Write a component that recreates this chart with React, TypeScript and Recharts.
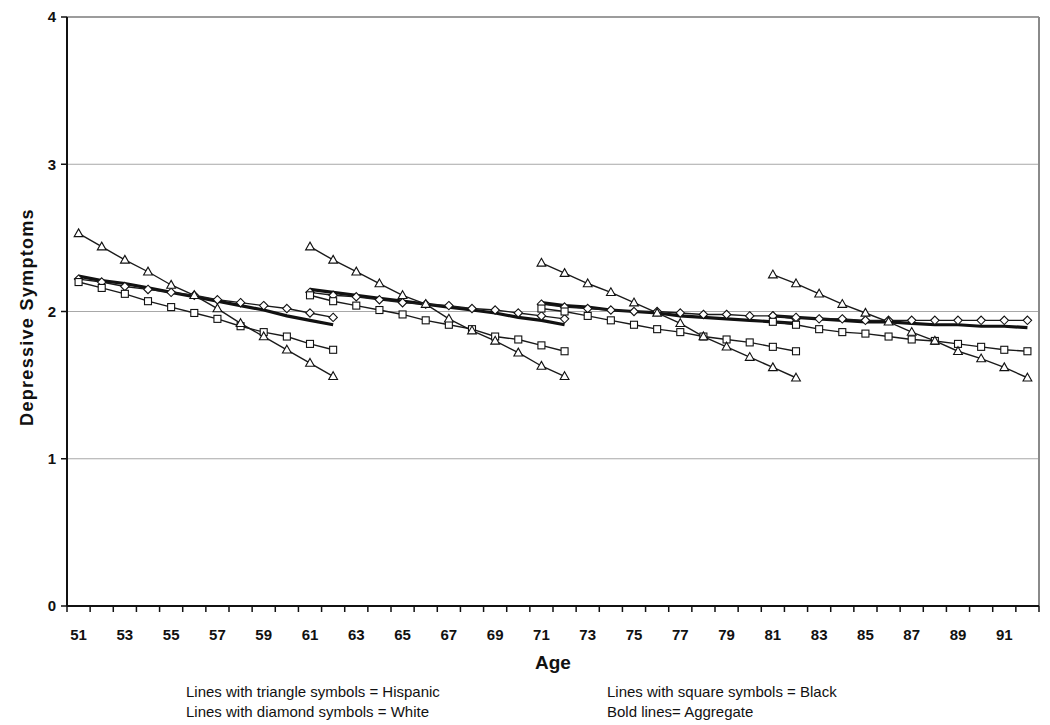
import React from 'react';
import { LineChart, Line, XAxis, YAxis, CartesianGrid, ReferenceLine } from 'recharts';

// Categories (age)
const ages = [51, 52, 53, 54, 55, 56, 57, 58, 59, 60, 61, 62, 63, 64, 65, 66, 67, 68, 69, 70, 71, 72,
  73, 74, 75, 76, 77, 78, 79, 80, 81, 82, 83, 84, 85, 86, 87, 88, 89, 90, 91, 92];
const cohortStarts = [51, 61, 71, 81];
const yTicks = [0, 1, 2, 3, 4];

// Hispanic (triangle symbols), one array per cohort
const hispanic51 = [2.53, 2.44, 2.35, 2.27, 2.18, 2.11, 2.02, 1.92, 1.83, 1.74, 1.65, 1.56];
const hispanic61 = [2.44, 2.35, 2.27, 2.19, 2.11, 2.05, 1.95, 1.87, 1.80, 1.72, 1.63, 1.56];
const hispanic71 = [2.33, 2.26, 2.19, 2.13, 2.06, 1.99, 1.92, 1.83, 1.76, 1.69, 1.62, 1.55];
const hispanic81 = [2.25, 2.19, 2.12, 2.05, 1.99, 1.93, 1.86, 1.80, 1.73, 1.68, 1.62, 1.55];

// Black (square symbols)
const black51 = [2.20, 2.16, 2.12, 2.07, 2.03, 1.99, 1.95, 1.90, 1.86, 1.83, 1.78, 1.74];
const black61 = [2.11, 2.07, 2.04, 2.01, 1.98, 1.94, 1.91, 1.88, 1.83, 1.81, 1.77, 1.73];
const black71 = [2.02, 2.00, 1.97, 1.94, 1.91, 1.88, 1.86, 1.83, 1.81, 1.79, 1.76, 1.73];
const black81 = [1.93, 1.91, 1.88, 1.86, 1.85, 1.83, 1.81, 1.80, 1.78, 1.76, 1.74, 1.73];

// White (diamond symbols)
const white51 = [2.22, 2.20, 2.17, 2.15, 2.13, 2.11, 2.08, 2.06, 2.04, 2.02, 1.99, 1.96];
const white61 = [2.13, 2.11, 2.10, 2.08, 2.06, 2.05, 2.04, 2.02, 2.01, 1.99, 1.97, 1.95];
const white71 = [2.05, 2.03, 2.02, 2.01, 2.00, 2.00, 1.99, 1.98, 1.98, 1.97, 1.97, 1.95];
const white81 = [1.97, 1.96, 1.95, 1.95, 1.94, 1.94, 1.94, 1.94, 1.94, 1.94, 1.94, 1.94];

// Aggregate (bold lines)
const aggregate51 = [2.24, 2.21, 2.19, 2.16, 2.13, 2.10, 2.07, 2.04, 2.01, 1.97, 1.94, 1.91];
const aggregate61 = [2.15, 2.13, 2.11, 2.09, 2.07, 2.05, 2.03, 2.01, 1.99, 1.96, 1.94, 1.91];
const aggregate71 = [2.06, 2.04, 2.03, 2.01, 2.00, 1.99, 1.97, 1.96, 1.95, 1.94, 1.93, 1.92];
const aggregate81 = [1.97, 1.96, 1.95, 1.94, 1.93, 1.93, 1.92, 1.91, 1.91, 1.90, 1.90, 1.89];

const groups: Record<string, number[][]> = {
  a: [aggregate51, aggregate61, aggregate71, aggregate81],
  w: [white51, white61, white71, white81],
  b: [black51, black61, black71, black81],
  h: [hispanic51, hispanic61, hispanic71, hispanic81],
};

const data = ages.map((age) => {
  const row: Record<string, number | null> = { age };
  Object.keys(groups).forEach((g) => {
    groups[g].forEach((arr, ci) => {
      const idx = age - cohortStarts[ci];
      row[`${g}${ci}`] = idx >= 0 && idx < arr.length ? arr[idx] : null;
    });
  });
  return row;
});

const boundaries = [...ages.map((a) => a - 0.5), ages[ages.length - 1] + 0.5];

const CHART_W = 1034;
const CHART_H = 715;
const MARGIN = { top: 9, right: 3, left: 0, bottom: 0 };
const YAXIS_W = 59;
const PLOT_W = CHART_W - MARGIN.left - MARGIN.right - YAXIS_W;
const HALF_CAT = PLOT_W / ages.length / 2;
const FONT = '"Liberation Sans", Arial, sans-serif';

const makeDot = (shape: 'tri' | 'sq' | 'dia') => (props: any) => {
  const { cx, cy, value, index } = props;
  const k = `${shape}-${index}-${cx}`;
  if (cx == null || cy == null || value == null || Number.isNaN(cy)) return <g key={k} />;
  const st = { fill: '#fff', stroke: '#111', strokeWidth: 1.1 };
  if (shape === 'tri') {
    return <polygon key={k} points={`${cx},${cy - 4.6} ${cx + 4.4},${cy + 3.2} ${cx - 4.4},${cy + 3.2}`} {...st} />;
  }
  if (shape === 'sq') {
    return <rect key={k} x={cx - 3.5} y={cy - 3.5} width={7} height={7} {...st} />;
  }
  return <polygon key={k} points={`${cx},${cy - 4.2} ${cx + 4.2},${cy} ${cx},${cy + 4.2} ${cx - 4.2},${cy}`} {...st} />;
};

const XTick = (props: any) => {
  const { x, y, payload } = props;
  const age = payload.value + 0.5;
  if (age > 91 || (age - 51) % 2 !== 0) return <g />;
  return (
    <text x={x + HALF_CAT} y={y} dy="0.71em" textAnchor="middle" fontFamily={FONT}
      fontSize={15} fontWeight="bold" fill="#111">
      {age}
    </text>
  );
};

const YTick = (props: any) => {
  const { x, y, payload } = props;
  return (
    <text x={x} y={y} dy="0.36em" textAnchor="end" fontFamily={FONT}
      fontSize={15} fontWeight="bold" fill="#111">
      {payload.value}
    </text>
  );
};

const lineKeys = [0, 1, 2, 3];

export default function App() {
  return (
    <div style={{ position: 'relative', width: CHART_W, height: CHART_H }}>
      <LineChart width={CHART_W} height={CHART_H} data={data} margin={MARGIN}>
        <CartesianGrid horizontal vertical={false} stroke="#a8a8a8" strokeWidth={1} />
        <ReferenceLine y={4} stroke="#8a8a8a" strokeWidth={1.5} />
        <ReferenceLine x={92.5} stroke="#8a8a8a" strokeWidth={2} />
        <XAxis
          dataKey="age"
          type="number"
          domain={[50.5, 92.5]}
          ticks={boundaries}
          interval={0}
          tick={<XTick />}
          tickSize={6}
          tickMargin={17}
          tickLine={{ stroke: '#111', strokeWidth: 1.5 }}
          axisLine={{ stroke: '#111', strokeWidth: 2 }}
          height={117}
          label={{
            content: (p: any) => {
              const vb = p.viewBox;
              return (
                <text x={vb.x + vb.width / 2} y={vb.y + 63} textAnchor="middle" fontFamily={FONT}
                  fontSize={19} fontWeight="bold" fill="#111">
                  Age
                </text>
              );
            },
          }}
        />
        <YAxis
          type="number"
          domain={[0, 4]}
          ticks={yTicks}
          width={YAXIS_W}
          tick={<YTick />}
          tickSize={6}
          tickMargin={5}
          tickLine={{ stroke: '#111', strokeWidth: 1.5 }}
          axisLine={{ stroke: '#111', strokeWidth: 2 }}
          label={{
            content: () => (
              <text x={19} y={309} transform="rotate(-90, 19, 309)" dy="0.35em" textAnchor="middle"
                fontFamily={FONT} fontSize={18} fontWeight="bold" letterSpacing={1.3} fill="#111">
                Depressive Symptoms
              </text>
            ),
          }}
        />
        {lineKeys.map((ci) => (
          <Line key={`a${ci}`} dataKey={`a${ci}`} type="linear" stroke="#111" strokeWidth={3.2}
            dot={false} activeDot={false} isAnimationActive={false} connectNulls={false} />
        ))}
        {lineKeys.map((ci) => (
          <Line key={`w${ci}`} dataKey={`w${ci}`} type="linear" stroke="#1a1a1a" strokeWidth={1.4}
            dot={makeDot('dia')} activeDot={false} isAnimationActive={false} connectNulls={false} />
        ))}
        {lineKeys.map((ci) => (
          <Line key={`b${ci}`} dataKey={`b${ci}`} type="linear" stroke="#1a1a1a" strokeWidth={1.4}
            dot={makeDot('sq')} activeDot={false} isAnimationActive={false} connectNulls={false} />
        ))}
        {lineKeys.map((ci) => (
          <Line key={`h${ci}`} dataKey={`h${ci}`} type="linear" stroke="#1a1a1a" strokeWidth={1.4}
            dot={makeDot('tri')} activeDot={false} isAnimationActive={false} connectNulls={false} />
        ))}
      </LineChart>
      <div style={{ position: 'absolute', left: 178, top: 674, fontFamily: FONT, fontSize: 15, lineHeight: '20px', color: '#111' }}>
        <div>Lines with triangle symbols = Hispanic</div>
        <div>Lines with diamond symbols = White</div>
      </div>
      <div style={{ position: 'absolute', left: 599, top: 674, fontFamily: FONT, fontSize: 15, lineHeight: '20px', color: '#111' }}>
        <div>Lines with square symbols = Black</div>
        <div>Bold lines= Aggregate</div>
      </div>
    </div>
  );
}
